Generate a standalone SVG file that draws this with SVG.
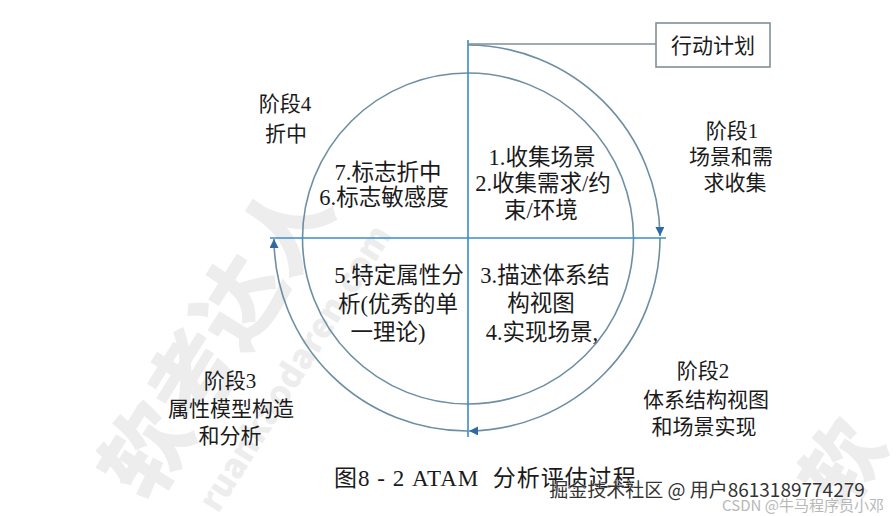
<svg xmlns="http://www.w3.org/2000/svg" width="896" height="516" viewBox="0 0 896 516">
<style>
.t{font-family:"Liberation Serif","Noto Sans CJK SC",serif;fill:#1a1a1a;text-anchor:middle}
.o{font-size:21px}
.i{font-size:22.5px}
.ax{stroke:#3a8cc8;stroke-width:1.6;fill:none}
.cir{stroke:#6d8ea3;stroke-width:1.6;fill:none}
.wm{font-family:"Noto Sans CJK SC",sans-serif;font-weight:900;fill:#ededed}
</style>
<defs>
<marker id="ah" viewBox="0 0 10 10" refX="10" refY="5" markerWidth="10" markerHeight="9" markerUnits="userSpaceOnUse" orient="auto">
<path d="M0,0 L10,5 L0,10 z" fill="#2f6aa6"/>
</marker>
</defs>
<rect width="896" height="516" fill="#ffffff"/>
<g id="watermark">
<text class="wm" font-size="88" transform="translate(150,505) rotate(-58)">软考达人</text>
<text class="wm" font-size="34" transform="translate(218,514) rotate(-58)">ruankaodaren.com</text>
<text class="wm" font-size="80" transform="translate(846,512) rotate(-58)">软</text>
</g>
<g id="connectors">
<circle class="cir" cx="468" cy="238.5" r="165.5"/>
<path class="cir" d="M468,45 A193,193 0 0 1 660,236" marker-end="url(#ah)"/>
<path class="cir" d="M660,238 A193,193 0 0 1 469,431" marker-end="url(#ah)"/>
<path class="cir" d="M468,431 A193,193 0 0 1 274,239" marker-end="url(#ah)"/>
<line class="ax" x1="468" y1="40" x2="468" y2="437"/>
<line class="ax" x1="270" y1="238" x2="666" y2="238"/>
<line x1="468" y1="44" x2="656" y2="44" stroke="#7f8f97" stroke-width="1.5"/>
</g>
<g id="action-plan">
<rect x="656" y="23" width="114" height="44" fill="#fff" stroke="#7f9098" stroke-width="1.6"/>
<text class="t o" x="713" y="53">行动计划</text>
</g>
<g id="stage4">
<text class="t o" x="285" y="111">阶段4</text>
<text class="t o" x="286" y="141">折中</text>
</g>
<g id="stage1">
<text class="t o" x="732" y="138">阶段1</text>
<text class="t o" x="731" y="164">场景和需</text>
<text class="t o" x="735" y="190">求收集</text>
</g>
<g id="stage3">
<text class="t o" x="230" y="388">阶段3</text>
<text class="t o" x="231" y="416">属性模型构造</text>
<text class="t o" x="230" y="443">和分析</text>
</g>
<g id="stage2">
<text class="t o" x="703" y="378">阶段2</text>
<text class="t o" x="706" y="407">体系结构视图</text>
<text class="t o" x="704" y="434">和场景实现</text>
</g>
<g id="q-tl">
<text class="t i" x="388" y="180">7.标志折中</text>
<text class="t i" x="384" y="205">6.标志敏感度</text>
</g>
<g id="q-tr">
<text class="t i" x="542" y="165">1.收集场景</text>
<text class="t i" x="543" y="191">2.收集需求/约</text>
<text class="t i" x="541" y="218">束/环境</text>
</g>
<g id="q-bl">
<text class="t i" x="399" y="283">5.特定属性分</text>
<text class="t i" x="398" y="312">析(优秀的单</text>
<text class="t i" x="388" y="340">一理论)</text>
</g>
<g id="q-br">
<text class="t i" x="545" y="283">3.描述体系结</text>
<text class="t i" x="541" y="311">构视图</text>
<text class="t i" x="542" y="340">4.实现场景,</text>
</g>
<g id="caption">
<text class="t" font-size="23" letter-spacing="1" x="334" y="486" style="text-anchor:start" xml:space="preserve">图8 - 2 ATAM  分析评估过程</text>
</g>
<g id="credits">
<text x="707" y="497" text-anchor="middle" font-family="Noto Sans CJK SC,sans-serif" font-size="19" fill="#333" stroke="#fff" stroke-width="0.6" paint-order="stroke">掘金技术社区 @ 用户8613189774279</text>
<text x="803" y="511" text-anchor="middle" font-family="Noto Sans CJK SC,sans-serif" font-size="15" fill="#b8b8b8">CSDN @牛马程序员小邓</text>
</g>
</svg>
